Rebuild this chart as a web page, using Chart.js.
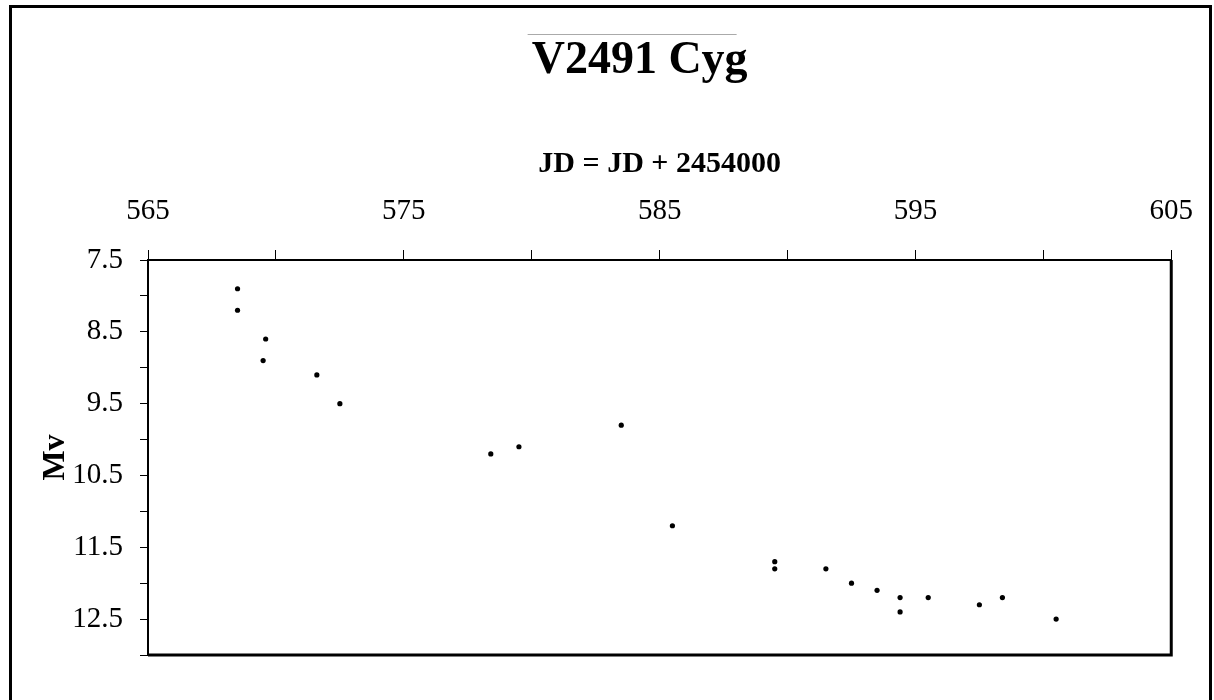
<!DOCTYPE html>
<html>
<head>
<meta charset="utf-8">
<script src="https://cdn.jsdelivr.net/npm/chart.js@4"></script>
<style>
  html, body { margin: 0; padding: 0; background: #fff; overflow: hidden; }
  #frame {
    position: absolute; left: 9px; top: 5px;
    width: 1197px; height: 720px;
    border: 3px solid #000;
  }
  #wrap { position: absolute; left: 0; top: 0; width: 1214px; height: 700px; }
</style>
</head>
<body>
<div id="frame"></div>
<div id="wrap"><canvas id="chart"></canvas></div>
<script>
// ---- data (JD - 2454000, visual magnitude) ----
const jdValues = [568.5, 568.5, 569.6, 569.5, 571.6, 572.5, 578.4, 579.5, 583.5, 585.5,
                  589.5, 589.5, 591.5, 592.5, 593.5, 594.4, 594.4, 595.5, 597.5, 598.4, 600.5];
const mvValues = [7.9, 8.2, 8.6, 8.9, 9.1, 9.5, 10.2, 10.1, 9.8, 11.2,
                  11.7, 11.8, 11.8, 12.0, 12.1, 12.2, 12.4, 12.2, 12.3, 12.2, 12.5];
const xTickLabels = [565, 575, 585, 595, 605];
const yTickLabels = [7.5, 8.5, 9.5, 10.5, 11.5, 12.5];

const chartTitle = "V2491 Cyg";
const xTitle = "JD = JD + 2454000";
const yTitle = "Mv";

const SERIF = "'Liberation Serif', 'Times New Roman', serif";

// title drawn above the plot, plus the thin grey rule over it
const titlePlugin = {
  id: "titleText",
  afterDraw(chart) {
    const ctx = chart.ctx;
    const cx = (chart.chartArea.left + chart.chartArea.right) / 2 - 20;
    ctx.save();
    ctx.strokeStyle = "#aaa";
    ctx.lineWidth = 1;
    ctx.beginPath();
    ctx.moveTo(cx - 112, 34.5);
    ctx.lineTo(cx + 97, 34.5);
    ctx.stroke();
    ctx.fillStyle = "#000";
    ctx.font = "bold 46px " + SERIF;
    ctx.textAlign = "center";
    ctx.textBaseline = "alphabetic";
    ctx.fillText(chartTitle, cx, 73);
    ctx.restore();
  }
};

// right + bottom edges of the plot box
const boxPlugin = {
  id: "plotBox",
  afterDraw(chart) {
    const { left, right, top, bottom } = chart.chartArea;
    const ctx = chart.ctx;
    ctx.save();
    ctx.strokeStyle = "#000";
    ctx.lineWidth = 3;
    ctx.beginPath();
    ctx.moveTo(left, bottom);
    ctx.lineTo(right, bottom);
    ctx.lineTo(right, top);
    ctx.stroke();
    ctx.restore();
  }
};

const points = jdValues.map((x, i) => ({ x, y: mvValues[i] }));

new Chart(document.getElementById("chart"), {
  type: "scatter",
  data: {
    datasets: [{
      data: points,
      backgroundColor: "#000",
      borderWidth: 0,
      pointRadius: 2.6,
      pointHoverRadius: 2.6
    }]
  },
  options: {
    responsive: true,
    maintainAspectRatio: false,
    animation: false,
    layout: { padding: { left: 0, right: 42, top: 146, bottom: 45 } },
    plugins: {
      legend: { display: false },
      title: { display: false },
      tooltip: { enabled: false }
    },
    scales: {
      x: {
        type: "linear",
        position: "top",
        min: 565,
        max: 605,
        afterFit: (scale) => { scale.height = 114; },
        ticks: {
          stepSize: 5,
          autoSkip: false,
          maxRotation: 0,
          padding: 21,
          color: "#000",
          font: { family: SERIF, size: 29 },
          callback: (v) => xTickLabels.includes(v) ? String(v) : ""
        },
        grid: {
          drawOnChartArea: false,
          drawTicks: true,
          tickLength: 10,
          color: "#000",
          lineWidth: 1
        },
        border: { display: true, color: "#000", width: 2 },
        title: {
          display: true,
          text: xTitle,
          color: "#000",
          font: { family: SERIF, size: 30, weight: "bold" },
          padding: { top: 0, bottom: 0 }
        }
      },
      y: {
        type: "linear",
        position: "left",
        reverse: true,
        min: 7.5,
        max: 13,
        afterFit: (scale) => { scale.width = 148; },
        ticks: {
          stepSize: 0.5,
          autoSkip: false,
          padding: 17,
          color: "#000",
          font: { family: SERIF, size: 29 },
          callback: (v) => yTickLabels.includes(v) ? String(v) : ""
        },
        grid: {
          drawOnChartArea: false,
          drawTicks: true,
          tickLength: 8,
          color: "#000",
          lineWidth: 1
        },
        border: { display: true, color: "#000", width: 2 },
        title: {
          display: true,
          text: yTitle,
          color: "#000",
          font: { family: SERIF, size: 32, weight: "bold" },
          padding: { top: 37, bottom: 0 }
        }
      }
    }
  },
  plugins: [titlePlugin, boxPlugin]
});
</script>
</body>
</html>
